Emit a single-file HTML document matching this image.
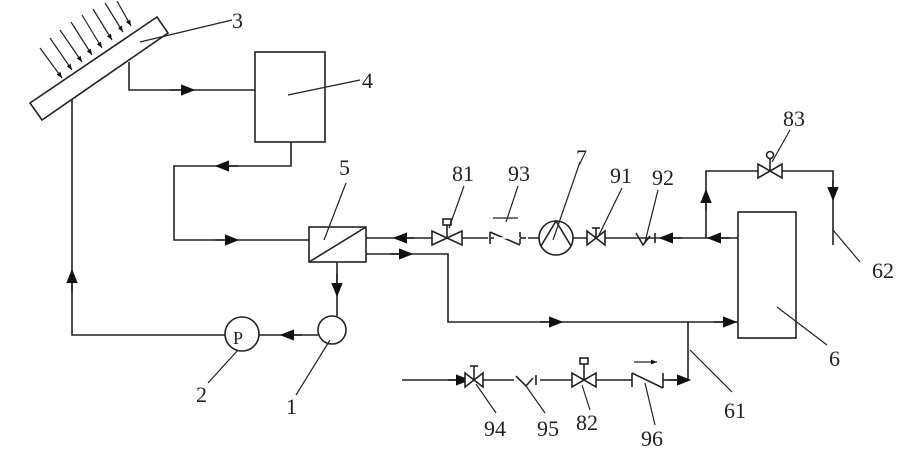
<!DOCTYPE html>
<html><head><meta charset="utf-8"><style>body{margin:0;background:#fff}svg{display:block}</style></head><body>
<svg width="921" height="464" viewBox="0 0 921 464" xmlns="http://www.w3.org/2000/svg" font-family="Liberation Serif, serif" font-size="22" fill="none" stroke="#222" stroke-width="1.6">
<defs><marker id="a" viewBox="0 0 10 10" refX="5" refY="5" markerWidth="9" markerHeight="9" orient="auto-start-reverse"><path d="M0,1L10,5L0,9z" fill="#111" stroke="none"/></marker>
<marker id="s" viewBox="0 0 10 10" refX="10" refY="5" markerWidth="5" markerHeight="5" orient="auto"><path d="M0,1L10,5L0,9z" fill="#111" stroke="none"/></marker></defs>
<!-- collector -->
<polygon points="30,103 157,17 168,33 42,120"/>
<g stroke-width="1.2">
<line x1="40" y1="48" x2="62" y2="78" marker-end="url(#s)"/>
<line x1="50" y1="38" x2="72" y2="70" marker-end="url(#s)"/>
<line x1="60" y1="30" x2="82" y2="62" marker-end="url(#s)"/>
<line x1="71" y1="22" x2="92" y2="55" marker-end="url(#s)"/>
<line x1="82" y1="15" x2="102" y2="48" marker-end="url(#s)"/>
<line x1="93" y1="9" x2="112" y2="40" marker-end="url(#s)"/>
<line x1="105" y1="3" x2="123" y2="32" marker-end="url(#s)"/>
<line x1="117" y1="1" x2="131" y2="26" marker-end="url(#s)"/>
</g>
<line x1="140" y1="42" x2="232" y2="20" stroke-width="1.2"/>
<text x="232" y="28" fill="#222" stroke="none">3</text>
<!-- to box 4 -->
<polyline points="129,62 129,90 255,90"/><line x1="170" y1="90" x2="188" y2="90" marker-end="url(#a)"/>
<rect x="255" y="52" width="70" height="90"/>
<line x1="288" y1="95" x2="360" y2="80" stroke-width="1.2"/>
<text x="362" y="88" fill="#222" stroke="none">4</text>
<polyline points="291,142 291,166 174,166 174,240 309,240"/>
<line x1="238" y1="166" x2="222" y2="166" marker-end="url(#a)"/>
<line x1="215" y1="240" x2="232" y2="240" marker-end="url(#a)"/>
<!-- box 5 -->
<rect x="309" y="227" width="57" height="35"/><line x1="309" y1="262" x2="366" y2="227"/>
<line x1="324" y1="240" x2="346" y2="183" stroke-width="1.2"/>
<text x="339" y="175" fill="#222" stroke="none">5</text>
<line x1="337" y1="262" x2="337" y2="316"/><line x1="337" y1="274" x2="337" y2="290" marker-end="url(#a)"/>
<circle cx="332" cy="330" r="14"/>
<line x1="318" y1="335" x2="259" y2="335"/><line x1="302" y1="335" x2="287" y2="335" marker-end="url(#a)"/>
<circle cx="242" cy="334" r="17"/><text x="233" y="344" font-size="18" fill="#222" stroke="none">P</text>
<polyline points="225,335 72,335 72,100"/><line x1="72" y1="292" x2="72" y2="276" marker-end="url(#a)"/>
<line x1="330" y1="340" x2="296" y2="395" stroke-width="1.2"/><text x="286" y="414" fill="#222" stroke="none">1</text>
<line x1="238" y1="350" x2="208" y2="383" stroke-width="1.2"/><text x="196" y="402" fill="#222" stroke="none">2</text>
<!-- top line -->
<line x1="366" y1="238" x2="738" y2="238"/>
<line x1="414" y1="238" x2="400" y2="238" marker-end="url(#a)"/>
<!-- valve 81 -->
<path d="M432,231L432,245L462,231L462,245Z" fill="#fff"/><line x1="447" y1="238" x2="447" y2="225"/><rect x="443" y="219" width="8" height="6" fill="#fff"/>
<line x1="449" y1="228" x2="464" y2="186" stroke-width="1.2"/><text x="452" y="181" fill="#222" stroke="none">81</text>
<!-- 93 -->
<rect x="488" y="230" width="40" height="16" fill="#fff" stroke="none"/>
<line x1="490" y1="232" x2="490" y2="244"/><line x1="520" y1="232" x2="520" y2="244"/><polyline points="490,232 520,245"/>
<line x1="490" y1="238" x2="520" y2="238" stroke="#fff"/><line x1="494" y1="238" x2="490" y2="238"/><line x1="520" y1="238" x2="526" y2="238"/>
<line x1="493" y1="218" x2="518" y2="218" stroke-width="1.2"/><line x1="506" y1="222" x2="518" y2="186" stroke-width="1.2"/>
<text x="508" y="181" fill="#222" stroke="none">93</text>
<!-- pump 7 -->
<circle cx="556" cy="238" r="17" fill="#fff"/><polyline points="541,246 556,221 571,246"/>
<line x1="553" y1="240" x2="580" y2="162" stroke-width="1.2"/><text x="576" y="165" fill="#222" stroke="none">7</text>
<!-- 91 -->
<path d="M587,231L587,245L605,231L605,245Z" fill="#fff"/><line x1="596" y1="238" x2="596" y2="228"/><line x1="592" y1="228" x2="600" y2="228"/>
<line x1="598" y1="237" x2="622" y2="188" stroke-width="1.2"/><text x="610" y="183" fill="#222" stroke="none">91</text>
<!-- 92 -->
<polyline points="636,233 643,245 650,236"/><line x1="655" y1="233" x2="655" y2="243"/>
<line x1="645" y1="242" x2="658" y2="190" stroke-width="1.2"/><text x="652" y="185" fill="#222" stroke="none">92</text>
<line x1="682" y1="238" x2="666" y2="238" marker-end="url(#a)"/>
<line x1="730" y1="238" x2="714" y2="238" marker-end="url(#a)"/>
<!-- branch to 83 -->
<polyline points="706,238 706,171 833,171 833,245"/>
<line x1="706" y1="210" x2="706" y2="196" marker-end="url(#a)"/>
<line x1="833" y1="180" x2="833" y2="194" marker-end="url(#a)"/>
<path d="M758,164L758,178L782,164L782,178Z" fill="#fff"/><line x1="770" y1="171" x2="770" y2="158"/><circle cx="770" cy="155" r="3.5" fill="#fff"/>
<line x1="772" y1="162" x2="790" y2="130" stroke-width="1.2"/><text x="783" y="126" fill="#222" stroke="none">83</text>
<line x1="833" y1="230" x2="860" y2="262" stroke-width="1.2"/><text x="872" y="278" fill="#222" stroke="none">62</text>
<!-- box 6 -->
<rect x="738" y="212" width="58" height="126"/>
<line x1="777" y1="307" x2="827" y2="345" stroke-width="1.2"/><text x="829" y="366" fill="#222" stroke="none">6</text>
<!-- lower loop -->
<polyline points="366,254 448,254 448,322 738,322"/>
<line x1="390" y1="254" x2="406" y2="254" marker-end="url(#a)"/>
<line x1="540" y1="322" x2="556" y2="322" marker-end="url(#a)"/>
<line x1="714" y1="322" x2="730" y2="322" marker-end="url(#a)"/>
<polyline points="688,322 688,380 402,380"/>
<line x1="668" y1="380" x2="684" y2="380" marker-end="url(#a)"/>
<line x1="448" y1="380" x2="463" y2="380" marker-end="url(#a)"/>
<line x1="690" y1="350" x2="732" y2="392" stroke-width="1.2"/><text x="724" y="418" fill="#222" stroke="none">61</text>
<!-- 94 -->
<path d="M465,373L465,387L483,373L483,387Z" fill="#fff"/><line x1="474" y1="380" x2="474" y2="366"/><line x1="470" y1="366" x2="478" y2="366"/>
<line x1="476" y1="384" x2="496" y2="413" stroke-width="1.2"/><text x="484" y="436" fill="#222" stroke="none">94</text>
<!-- 95 -->
<rect x="514" y="374" width="26" height="12" fill="#fff" stroke="none"/>
<polyline points="516,376 526,386 533,378"/><line x1="536" y1="375" x2="536" y2="385"/>
<line x1="526" y1="386" x2="545" y2="413" stroke-width="1.2"/><text x="537" y="436" fill="#222" stroke="none">95</text>
<!-- 82 -->
<path d="M572,373L572,387L596,373L596,387Z" fill="#fff"/><line x1="584" y1="380" x2="584" y2="364"/><rect x="580" y="358" width="8" height="6" fill="#fff"/>
<line x1="582" y1="385" x2="590" y2="410" stroke-width="1.2"/><text x="576" y="430" fill="#222" stroke="none">82</text>
<!-- 96 -->
<rect x="628" y="372" width="40" height="18" fill="#fff" stroke="none"/>
<line x1="632" y1="373" x2="632" y2="387"/><line x1="663" y1="373" x2="663" y2="388"/><polyline points="632,373 663,388"/>
<line x1="628" y1="380" x2="632" y2="380"/><line x1="663" y1="380" x2="668" y2="380"/>
<line x1="634" y1="362" x2="657" y2="362" stroke-width="1.2" marker-end="url(#s)"/>
<line x1="645" y1="383" x2="655" y2="425" stroke-width="1.2"/><text x="641" y="446" fill="#222" stroke="none">96</text>
</svg>
</body></html>
